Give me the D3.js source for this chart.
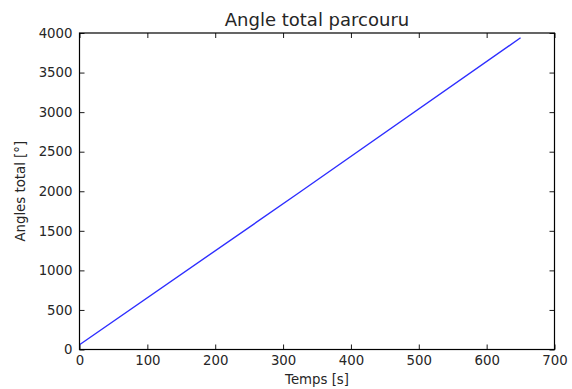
<!DOCTYPE html>
<html><head><meta charset="utf-8">
<script src="https://cdn.jsdelivr.net/npm/d3@7"></script>
<style>body{margin:0;background:#fff;} text{font-family:"DejaVu Sans",sans-serif;fill:#262626;}</style>
</head><body>
<svg id="c" width="572" height="389"></svg>
<script>
const timeValues = [0, 325, 650];
const angleValues = [60, 1990, 3940];
const xTicks = [0, 100, 200, 300, 400, 500, 600, 700];
const yTicks = [0, 500, 1000, 1500, 2000, 2500, 3000, 3500, 4000];
const title = "Angle total parcouru";
const xLabel = "Temps [s]";
const yLabel = "Angles total [°]";

const svg = d3.select("#c");
const m = {l: 79.5, r: 554.5, t: 33, b: 349.5};
const x = d3.scaleLinear().domain([0, 700]).range([m.l, m.r]);
const y = d3.scaleLinear().domain([0, 4000]).range([m.b, m.t]);

const tickLen = 5;
const fs = "13.3px";
const gx = svg.append("g").attr("transform", `translate(0,${m.b})`)
  .call(d3.axisBottom(x).tickValues(xTicks).tickSize(-tickLen).tickPadding(6).tickFormat(d3.format("d")));
const gxt = svg.append("g").attr("transform", `translate(0,${m.t})`)
  .call(d3.axisTop(x).tickValues(xTicks).tickSize(-tickLen).tickFormat(""));
const gy = svg.append("g").attr("transform", `translate(${m.l},0)`)
  .call(d3.axisLeft(y).tickValues(yTicks).tickSize(-tickLen).tickPadding(7).tickFormat(d3.format("d")));
const gyr = svg.append("g").attr("transform", `translate(${m.r},0)`)
  .call(d3.axisRight(y).tickValues(yTicks).tickSize(-tickLen).tickFormat(""));
[gx, gxt, gy, gyr].forEach(g => {
  g.select(".domain").remove();
  g.selectAll("line").attr("stroke", "#000").attr("stroke-width", 0.9);
  g.selectAll("text").style("font-size", fs).attr("fill", "#262626");
});
gx.selectAll("text").attr("dy", "0.71em");

svg.append("path")
  .datum(timeValues.map((t, i) => [t, angleValues[i]]))
  .attr("fill", "none").attr("stroke", "#2e2eff").attr("stroke-width", 1.4)
  .attr("d", d3.line().x(d => x(d[0])).y(d => y(d[1])));

svg.append("rect").attr("x", m.l).attr("y", m.t).attr("width", m.r - m.l).attr("height", m.b - m.t)
  .attr("fill", "none").attr("stroke", "#000").attr("stroke-width", 1.2);

svg.append("text").attr("x", (m.l + m.r) / 2).attr("y", 25.5).attr("text-anchor", "middle")
  .style("font-size", "18px").text(title);
svg.append("text").attr("x", (m.l + m.r) / 2).attr("y", 383.5).attr("text-anchor", "middle")
  .style("font-size", fs).text(xLabel);
svg.append("text").attr("transform", `translate(25,${(m.t + m.b) / 2}) rotate(-90)`).attr("text-anchor", "middle")
  .style("font-size", fs).text(yLabel);
</script>
</body></html>
